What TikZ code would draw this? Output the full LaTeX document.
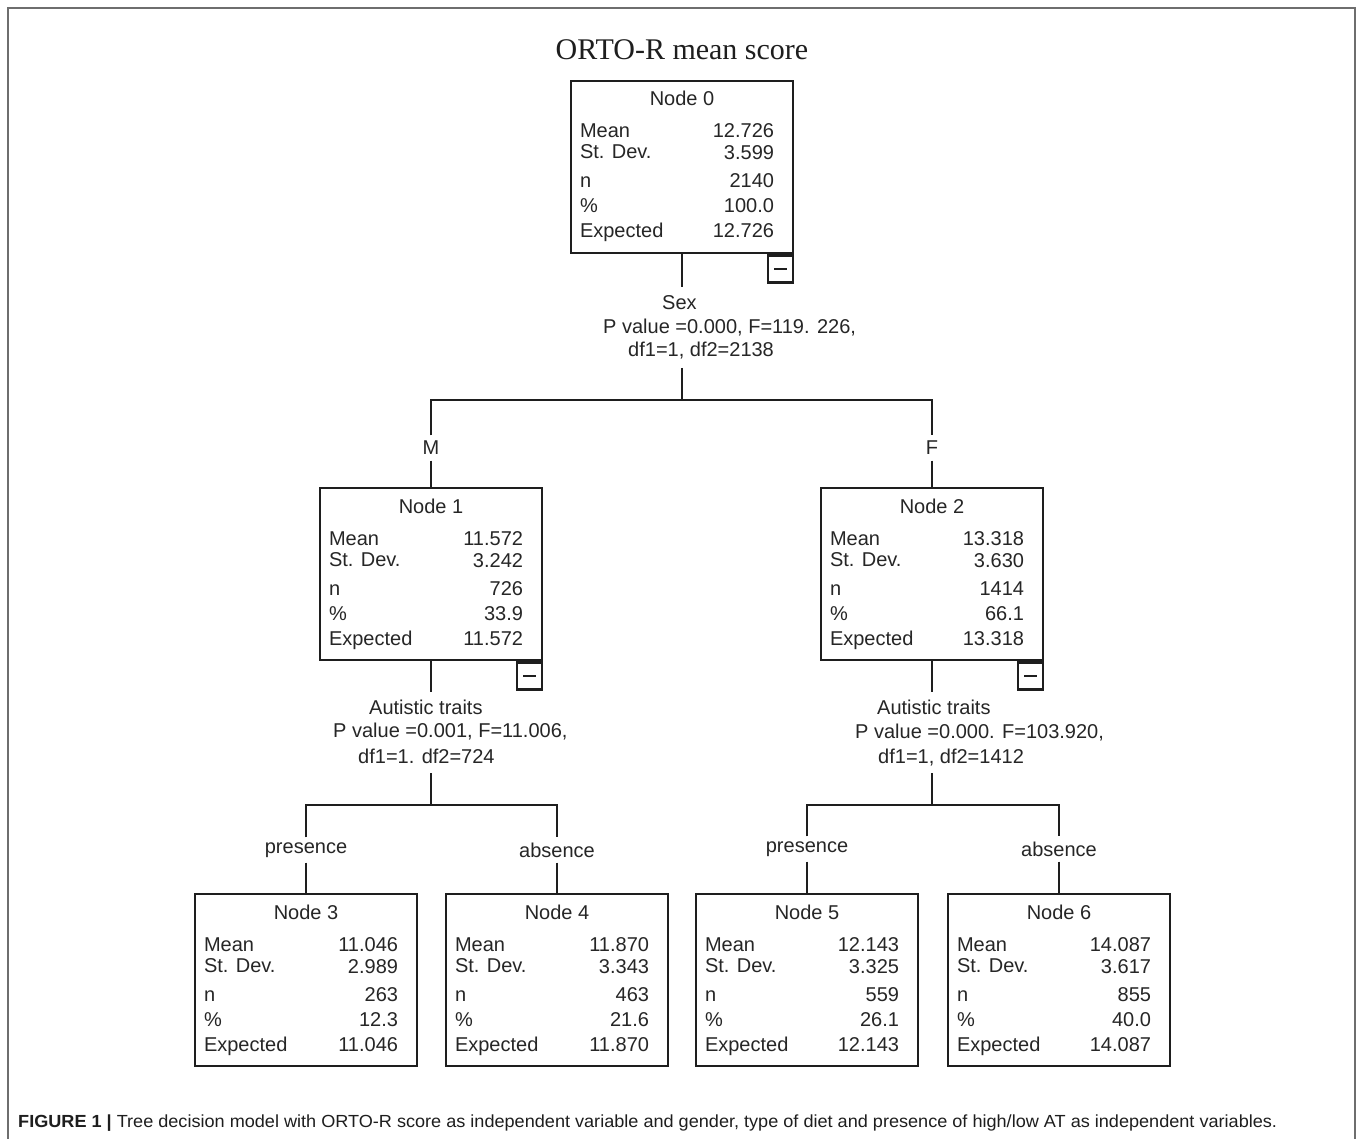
\documentclass[tikz,border=0pt]{standalone}
\usepackage{fontspec}
\setmainfont{Liberation Sans}
\newfontfamily\titlefont{Liberation Serif}
\usetikzlibrary{calc}
\definecolor{ink}{HTML}{1E1E1E}
\definecolor{txt}{HTML}{262626}
\definecolor{frm}{HTML}{6E6E6E}
\tikzset{
  edge/.style={draw=ink, line width=2.4pt},
  tbox/.style={draw=ink, line width=2.4pt, minimum width=222pt, minimum height=172pt, inner sep=0pt, anchor=north, fill=white},
  mbox/.style={draw=ink, line width=2.2pt, minimum width=25pt, minimum height=27pt, inner sep=0pt, anchor=north east},
  ttext/.style={text=txt, font=\fontsize{20}{24}\selectfont, inner sep=0pt},
  lab/.style={ttext, anchor=base west},
  val/.style={ttext, anchor=base east},
  hdr/.style={ttext, anchor=base},
  gaplabel/.style={ttext, minimum height=25pt},
  outerline/.style={draw=frm, line width=2pt},
}
\newcommand\treebox[9]{%
  \node[tbox] (#1) at (#2,#3) {};
  \node[hdr] (#1h) at ($(#1.north)+(0,26)$) {#4};
  \node[lab] (#1la) at ($(#1.north west)+(10,58)$) {Mean};
  \node[lab] (#1lb) at ($(#1.north west)+(10,79)$) {St. Dev.};
  \node[lab] (#1lc) at ($(#1.north west)+(10,108)$) {n};
  \node[lab] (#1ld) at ($(#1.north west)+(10,133)$) {\%};
  \node[lab] (#1le) at ($(#1.north west)+(10,158)$) {Expected};
  \node[val] (#1va) at ($(#1.north east)+(-20,58)$) {#5};
  \node[val] (#1vb) at ($(#1.north east)+(-20,80)$) {#6};
  \node[val] (#1vc) at ($(#1.north east)+(-20,108)$) {#7};
  \node[val] (#1vd) at ($(#1.north east)+(-20,133)$) {#8};
  \node[val] (#1ve) at ($(#1.north east)+(-20,158)$) {#9};
}
\newcommand\minusbox[1]{%
  \node[mbox] (#1m) at (#1.south east) {\color{ink}\rule{13pt}{2.2pt}};
}
\begin{document}
\begin{tikzpicture}[x=1pt,y=-1pt]
\useasboundingbox (0,0) rectangle (1357,1139);
\fill[white] (0,0) rectangle (1357,1139);
\draw[outerline] (7.5,1140) -- (7.5,8) -- (1355,8) -- (1355,1140);

\node[text=ink, font=\titlefont\fontsize{30}{34}\selectfont, inner sep=0pt] (title) at (682,50) {ORTO-R mean score};

% tree boxes
\treebox{N0}{682}{80}{Node 0}{12.726}{3.599}{2140}{100.0}{12.726}
\treebox{N1}{431}{487}{Node 1}{11.572}{3.242}{726}{33.9}{11.572}
\treebox{N2}{932}{487}{Node 2}{13.318}{3.630}{1414}{66.1}{13.318}
\treebox{N3}{306}{893}{Node 3}{11.046}{2.989}{263}{12.3}{11.046}
\treebox{N4}{557}{893}{Node 4}{11.870}{3.343}{463}{21.6}{11.870}
\treebox{N5}{807}{893}{Node 5}{12.143}{3.325}{559}{26.1}{12.143}
\treebox{N6}{1059}{893}{Node 6}{14.087}{3.617}{855}{40.0}{14.087}
\minusbox{N0}
\minusbox{N1}
\minusbox{N2}

% split 0
\node[lab] (s0a) at (662,310) {Sex};
\node[lab] (s0b) at (603,334) {P value =0.000, F=119. 226,};
\node[lab] (s0c) at (628,357) {df1=1, df2=2138};
\coordinate (t0) at (682,287);
\coordinate (u0) at (682,368);
\coordinate (k0) at (682,400);
\node[gaplabel] (M) at (431,448) {M};
\node[gaplabel] (F) at (932,448) {F};
\draw[edge] (N0.south) -- (t0);
\draw[edge] (u0) -- (k0);
\draw[edge] (M.north) |- (k0) -| (F.north);
\draw[edge] (M.south) -- (N1.north);
\draw[edge] (F.south) -- (N2.north);

% split 1
\node[lab] (s1a) at (369,714) {Autistic traits};
\node[lab] (s1b) at (333,737) {P value =0.001, F=11.006,};
\node[lab] (s1c) at (358,763) {df1=1. df2=724};
\coordinate (t1) at (431,692);
\coordinate (u1) at (431,773);
\coordinate (k1) at (431,805);
\node[gaplabel] (P1) at (306,850) {presence};
\node[gaplabel] (A1) at (557,850) {absence};
\draw[edge] (N1.south) -- (t1);
\draw[edge] (u1) -- (k1);
\draw[edge] (P1.north) |- (k1) -| (A1.north);
\draw[edge] (P1.south) -- (N3.north);
\draw[edge] (A1.south) -- (N4.north);

% split 2
\node[lab] (s2a) at (877,714) {Autistic traits};
\node[lab] (s2b) at (855,738) {P value =0.000. F=103.920,};
\node[lab] (s2c) at (878,763) {df1=1, df2=1412};
\coordinate (t2) at (932,692);
\coordinate (u2) at (932,773);
\coordinate (k2) at (932,805);
\node[gaplabel] (P2) at (807,849) {presence};
\node[gaplabel] (A2) at (1059,849) {absence};
\draw[edge] (N2.south) -- (t2);
\draw[edge] (u2) -- (k2);
\draw[edge] (P2.north) |- (k2) -| (A2.north);
\draw[edge] (P2.south) -- (N5.north);
\draw[edge] (A2.south) -- (N6.north);

% caption
\node[anchor=base west, inner sep=0pt, text=ink] (cap) at (18,1127) {\resizebox{1259pt}{12.7pt}{\fontsize{17}{20}\selectfont\textbf{FIGURE 1 |} Tree decision model with ORTO-R score as independent variable and gender, type of diet and presence of high/low AT as independent variables.}};
\end{tikzpicture}
\end{document}
